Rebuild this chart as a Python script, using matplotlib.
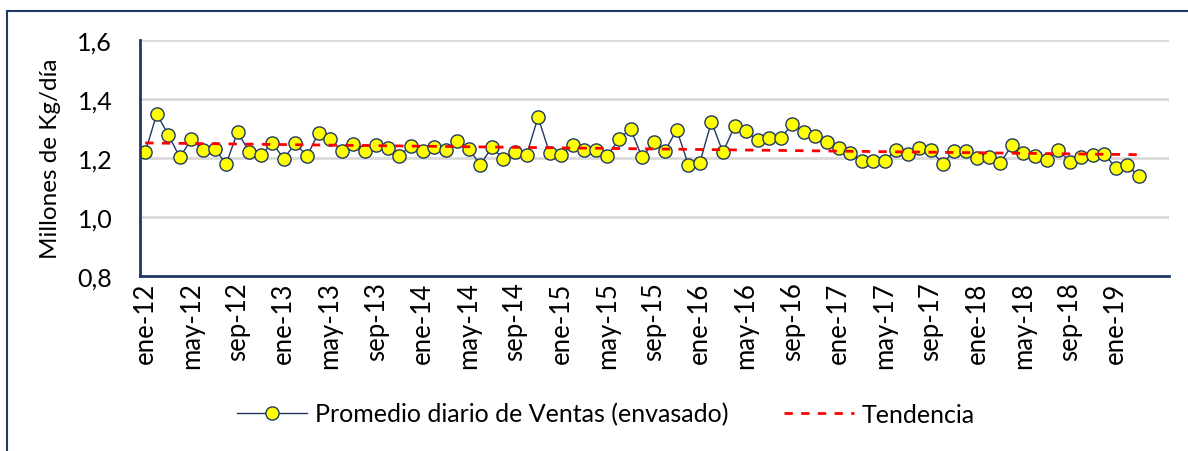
import numpy as np
import matplotlib.pyplot as plt
from matplotlib.patches import Rectangle

plt.rcParams['font.family'] = ['Lato', 'DejaVu Sans']

# monthly sales (millions kg/day), ene-12 .. mar-19
ventas = [1.219, 1.349, 1.279, 1.202, 1.264, 1.227, 1.232, 1.180, 1.288, 1.221,
          1.210, 1.250, 1.198, 1.250, 1.206, 1.285, 1.264, 1.225, 1.246, 1.224,
          1.244, 1.233, 1.208, 1.242, 1.223, 1.236, 1.226, 1.257, 1.231, 1.177,
          1.236, 1.197, 1.219, 1.210, 1.338, 1.216, 1.211, 1.245, 1.226, 1.227,
          1.208, 1.264, 1.299, 1.202, 1.253, 1.225, 1.296, 1.177, 1.184, 1.323,
          1.219, 1.308, 1.290, 1.260, 1.269, 1.268, 1.315, 1.287, 1.273, 1.254,
          1.234, 1.217, 1.191, 1.191, 1.191, 1.227, 1.212, 1.233, 1.227, 1.180,
          1.224, 1.224, 1.199, 1.203, 1.182, 1.244, 1.217, 1.208, 1.193, 1.228,
          1.188, 1.202, 1.210, 1.215, 1.165, 1.175, 1.138]
meses = ['ene', 'feb', 'mar', 'abr', 'may', 'jun', 'jul', 'ago', 'sep', 'oct', 'nov', 'dic']
etiquetas = ['{}-{}'.format(meses[i % 12], 12 + i // 12) for i in range(len(ventas))]

x = np.arange(len(ventas))
# linear trend line
coef = np.polyfit(x, ventas, 1)
tendencia = np.polyval(coef, x)

navy = '#1F3864'
fig = plt.figure(figsize=(11.88, 4.52), dpi=100)
ax = fig.add_axes([140/1188, 1-277/452, (1169-140)/1188, (277-41)/452])

ax.plot(x, ventas, color=navy, lw=1, marker='o', ms=9.5, mfc='#FFFF00',
        mec=navy, mew=1, label='Promedio diario de Ventas (envasado)')
ax.plot(x, tendencia, color='#FF0000', lw=2, ls=(0, (3, 3)), label='Tendencia')

ax.set_xlim(-0.45, 88.6)
ax.set_ylim(0.8, 1.6)
ax.set_yticks([0.8, 1.0, 1.2, 1.4, 1.6])
ax.set_yticklabels(['0,8', '1,0', '1,2', '1,4', '1,6'], fontsize=18)
ax.set_xticks(x[::4])
ax.set_xticklabels(etiquetas[::4], rotation=90, fontsize=18.5)
ax.tick_params(length=0, pad=4)
ax.tick_params(axis='y', pad=20)
ax.yaxis.grid(True, color='#D9D9D9', lw=2)
ax.set_axisbelow(True)
for s in ['top', 'right']:
    ax.spines[s].set_visible(False)
for s in ['left', 'bottom']:
    ax.spines[s].set_color(navy)
    ax.spines[s].set_linewidth(2)
ax.set_ylabel('Millones de Kg/día', fontsize=17.5, labelpad=12)

fig.legend(loc='center', bbox_to_anchor=(606/1188, 1-415/452), ncol=2,
           frameon=False, fontsize=18, handlelength=2.8, handletextpad=0.32,
           columnspacing=2.2)

# outer chart frame
fig.patches.append(Rectangle((7/1188, -0.1), 1.1, 1-12/452+0.1, transform=fig.transFigure,
                             fill=False, edgecolor=navy, lw=1.5))

plt.savefig('out.png', dpi=100)
